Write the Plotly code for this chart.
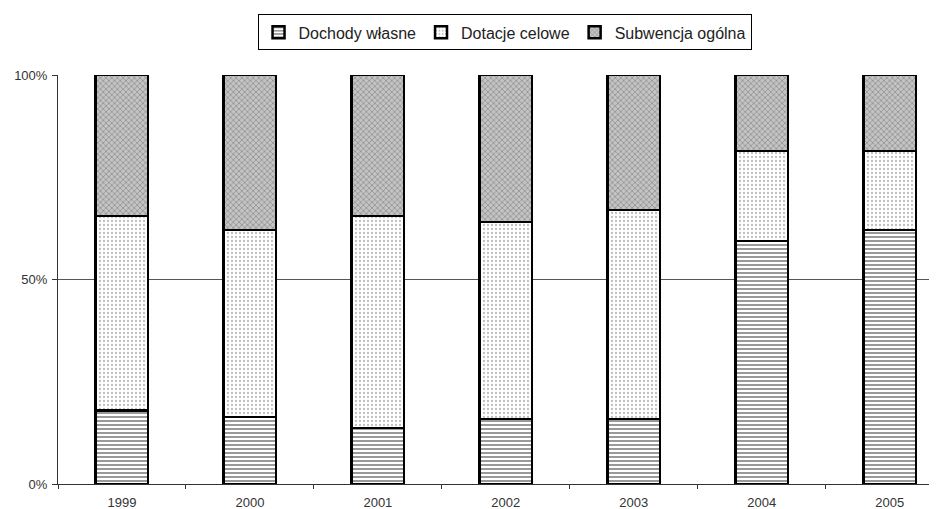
import plotly.graph_objects as go

years = ["1999", "2000", "2001", "2002", "2003", "2004", "2005"]
dochody = [18.0, 16.4, 13.7, 15.9, 15.9, 59.4, 62.1]
dotacje = [47.5, 45.7, 51.8, 48.1, 51.1, 22.0, 19.3]
subwencja = [34.5, 37.9, 34.5, 36.0, 33.0, 18.6, 18.6]

series = [
    ("Dochody własne", dochody, dict(shape="-", fgcolor="#333333", bgcolor="#ffffff", size=4, solidity=0.5)),
    ("Dotacje celowe", dotacje, dict(shape=".", fgcolor="#7a7a7a", bgcolor="#ffffff", size=4, solidity=0.25)),
    ("Subwencja ogólna", subwencja, dict(shape="x", fgcolor="#5a5a5a", bgcolor="#c4c4c4", size=4, solidity=0.35)),
]

fig = go.Figure()
for name, vals, pat in series:
    fig.add_trace(go.Bar(
        x=years, y=[v / 100 for v in vals], name=name, width=0.41,
        marker=dict(color=pat["bgcolor"], line=dict(color="#000000", width=2.5), pattern=pat),
    ))

# page body has an 8px margin, so the figure is 8px smaller and shifted
fig.update_layout(
    barmode="stack",
    width=929, height=501,
    margin=dict(l=50, r=0, t=67, b=25, autoexpand=False),
    paper_bgcolor="white", plot_bgcolor="white",
    font=dict(family="Liberation Sans, Arial, sans-serif", color="#222222"),
    legend=dict(
        orientation="h", x=0.508, xanchor="center", y=1.148, yanchor="top",
        bordercolor="#000000", borderwidth=1, font=dict(size=16, color="#222"),
        itemwidth=30, traceorder="normal", tracegroupgap=0,
    ),
)
fig.update_xaxes(
    type="category", range=[-0.5, 6.37], showline=True, linecolor="#333", linewidth=1,
    ticks="outside", tickson="boundaries", ticklen=4, tickcolor="#333",
    tickfont=dict(size=13, color="#333"), showgrid=False, automargin=False,
    ticklabelstandoff=6,
)
fig.update_yaxes(
    range=[0, 1], tickvals=[0, 0.5, 1], tickformat=".0%", showline=True, linecolor="#333",
    linewidth=1, ticks="outside", ticklen=5, tickcolor="#333", tickfont=dict(size=13, color="#333"),
    showgrid=True, gridcolor="#555", gridwidth=1, zeroline=False, automargin=False,
    ticklabelstandoff=2,
)

fig.write_html("out.html")
